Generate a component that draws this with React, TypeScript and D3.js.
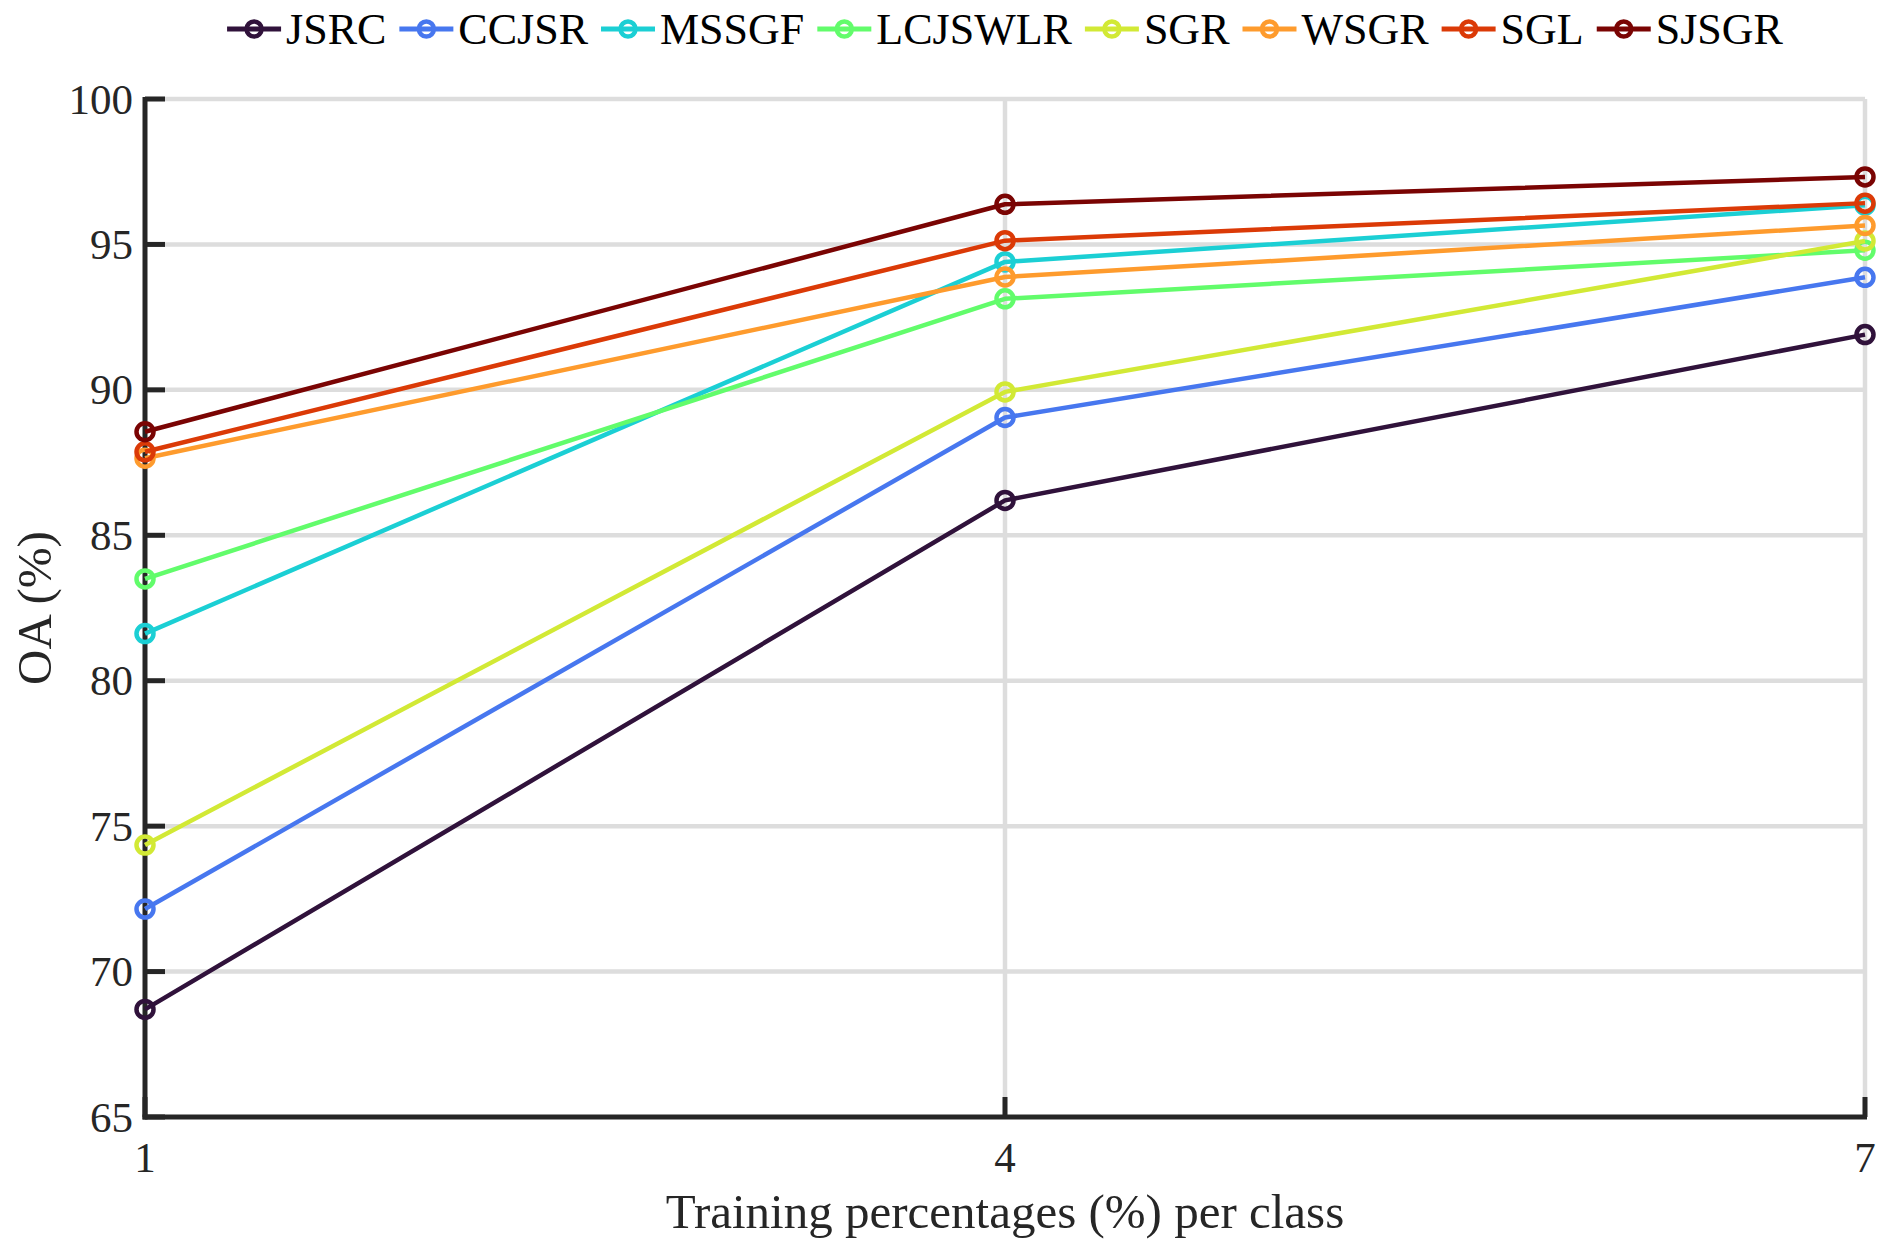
import React, { useEffect, useRef } from "react";
import * as d3 from "d3";

const xValues = [1, 4, 7];
const seriesNames = ["JSRC", "CCJSR", "MSSGF", "LCJSWLR", "SGR", "WSGR", "SGL", "SJSGR"];
const JSRC = [68.7, 86.2, 91.9];
const CCJSR = [72.15, 89.05, 93.87];
const MSSGF = [81.62, 94.4, 96.35];
const LCJSWLR = [83.5, 93.13, 94.8];
const SGR = [74.35, 89.93, 95.12];
const WSGR = [87.65, 93.88, 95.65];
const SGL = [87.87, 95.13, 96.42];
const SJSGR = [88.56, 96.38, 97.32];
const seriesValues = [JSRC, CCJSR, MSSGF, LCJSWLR, SGR, WSGR, SGL, SJSGR];
const seriesColors = ["#30123B", "#4777EF", "#1BCFD4", "#62FC6B", "#D2E935", "#FE9B2D", "#DB3A07", "#7A0403"];
const yTicks = [65, 70, 75, 80, 85, 90, 95, 100];
const xTicks = [1, 4, 7];
const xLabel = "Training percentages (%) per class";
const yLabel = "OA (%)";

const W = 1891;
const H = 1253;
const FONT = "'Liberation Serif', 'Times New Roman', Times, serif";

export default function App() {
  const ref = useRef<SVGSVGElement | null>(null);

  useEffect(() => {
    const svg = d3.select(ref.current);
    svg.selectAll("*").remove();

    const left = 145, right = 1865, top = 99, bottom = 1117;
    const x = d3.scaleLinear().domain([1, 7]).range([left, right]);
    const y = d3.scaleLinear().domain([65, 100]).range([bottom, top]);
    const ink = "#262626";

    svg.append("rect").attr("width", W).attr("height", H).attr("fill", "#fff");

    // grid
    const grid = svg.append("g");
    grid.selectAll("line.gy").data(yTicks.filter((t) => t !== 65)).enter().append("line")
      .attr("x1", left).attr("x2", right)
      .attr("y1", (d) => y(d)).attr("y2", (d) => y(d))
      .attr("stroke", "#dddddd").attr("stroke-width", 4.5);
    grid.selectAll("line.gx").data(xTicks.filter((t) => t !== 1)).enter().append("line")
      .attr("x1", (d) => x(d)).attr("x2", (d) => x(d))
      .attr("y1", top).attr("y2", bottom)
      .attr("stroke", "#dddddd").attr("stroke-width", 4.5);

    // axes
    const ax = svg.append("g");
    ax.append("line").attr("x1", left).attr("x2", left).attr("y1", top - 2).attr("y2", bottom + 2.5)
      .attr("stroke", ink).attr("stroke-width", 5);
    ax.append("line").attr("x1", left - 2.5).attr("x2", right + 2).attr("y1", bottom).attr("y2", bottom)
      .attr("stroke", ink).attr("stroke-width", 5);
    ax.selectAll("line.ty").data(yTicks).enter().append("line")
      .attr("x1", left).attr("x2", left + 20)
      .attr("y1", (d) => y(d)).attr("y2", (d) => y(d))
      .attr("stroke", ink).attr("stroke-width", 5);
    ax.selectAll("line.tx").data(xTicks).enter().append("line")
      .attr("x1", (d) => x(d)).attr("x2", (d) => x(d))
      .attr("y1", bottom).attr("y2", bottom - 20)
      .attr("stroke", ink).attr("stroke-width", 5);

    ax.selectAll("text.ly").data(yTicks).enter().append("text")
      .attr("x", left - 12).attr("y", (d) => y(d))
      .attr("dy", "0.34em")
      .attr("text-anchor", "end")
      .attr("font-family", FONT).attr("font-size", 43).attr("fill", ink)
      .text((d) => String(d));
    ax.selectAll("text.lx").data(xTicks).enter().append("text")
      .attr("x", (d) => x(d)).attr("y", 1172)
      .attr("text-anchor", "middle")
      .attr("font-family", FONT).attr("font-size", 43).attr("fill", ink)
      .text((d) => String(d));

    svg.append("text")
      .attr("x", (left + right) / 2).attr("y", 1228)
      .attr("text-anchor", "middle")
      .attr("font-family", FONT).attr("font-size", 49).attr("fill", ink)
      .text(xLabel);
    svg.append("text")
      .attr("transform", `translate(51, ${(top + bottom) / 2}) rotate(-90)`)
      .attr("text-anchor", "middle")
      .attr("font-family", FONT).attr("font-size", 49).attr("fill", ink)
      .text(yLabel);

    // series
    const line = d3.line<[number, number]>().x((d) => x(d[0])).y((d) => y(d[1]));
    seriesValues.forEach((vals, i) => {
      const pts: [number, number][] = vals.map((v, j) => [xValues[j], v]);
      const g = svg.append("g");
      g.append("path").attr("d", line(pts) || "")
        .attr("fill", "none").attr("stroke", seriesColors[i]).attr("stroke-width", 4.5)
        .attr("stroke-linejoin", "round");
      g.selectAll("circle").data(pts).enter().append("circle")
        .attr("cx", (d) => x(d[0])).attr("cy", (d) => y(d[1])).attr("r", 8.5)
        .attr("fill", "none").attr("stroke", seriesColors[i]).attr("stroke-width", 4.5);
    });

    // legend
    const LFS = 44;
    const lg = svg.append("g");
    const items: { x0: number; w: number }[] = [];
    let cx = 0;
    const tmp = lg.append("g");
    seriesNames.forEach((name) => {
      const t = tmp.append("text").attr("font-family", FONT).attr("font-size", LFS).text(name);
      const tw = (t.node() as SVGTextElement).getComputedTextLength();
      items.push({ x0: cx, w: tw });
      cx += 59 + tw + 13;
    });
    tmp.remove();
    const total = cx - 13;
    const start = (left + right) / 2 - total / 2;
    seriesNames.forEach((name, i) => {
      const x0 = start + items[i].x0;
      lg.append("line").attr("x1", x0).attr("x2", x0 + 54).attr("y1", 29).attr("y2", 29)
        .attr("stroke", seriesColors[i]).attr("stroke-width", 5);
      lg.append("circle").attr("cx", x0 + 27).attr("cy", 29).attr("r", 7.5)
        .attr("fill", "none").attr("stroke", seriesColors[i]).attr("stroke-width", 4.5);
      lg.append("text").attr("x", x0 + 59).attr("y", 44)
        .attr("font-family", FONT).attr("font-size", LFS).attr("fill", "#000")
        .text(name);
    });
  }, []);

  return (
    <svg
      ref={ref}
      width={W}
      height={H}
      style={{ position: "absolute", left: 0, top: 0, display: "block" }}
    />
  );
}
